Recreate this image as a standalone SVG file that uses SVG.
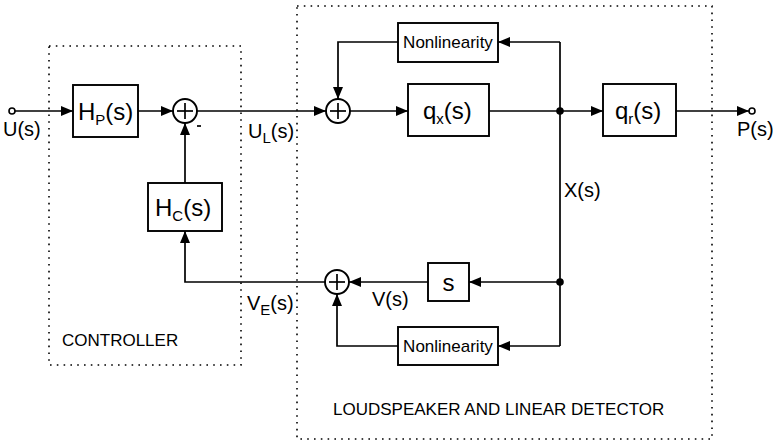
<svg xmlns="http://www.w3.org/2000/svg" width="773" height="442" viewBox="0 0 773 442">
<style>
  .box { fill: #fff; stroke: #000; stroke-width: 1.9; }
  .sum { fill: #fff; stroke: #000; stroke-width: 1.9; }
  .ln { fill: none; stroke: #000; stroke-width: 1.7; }
  .dot { fill: none; stroke: #000; stroke-width: 1.6; stroke-dasharray: 1.6 5.2; }
  text { font-family: "Liberation Sans", Arial, sans-serif; fill: #000; }
  .big { font-size: 24px; }
  .lab { font-size: 20px; }
  .nl { font-size: 17px; }
  .cap { font-size: 17px; }
  .sub { font-size: 15px; }
</style>
<defs>
  <marker id="arr" viewBox="0 0 12 10" refX="12" refY="5" markerWidth="12" markerHeight="10" markerUnits="userSpaceOnUse" orient="auto">
    <path d="M0,0 L12,5 L0,10 Z" fill="#000"/>
  </marker>
</defs>

<g id="frames">
  <rect class="dot" x="49" y="46" width="192" height="319"/>
  <rect class="dot" x="297" y="6" width="415" height="433"/>
</g>

<g id="connectors">
  <line class="ln" x1="15" y1="111" x2="73" y2="111" marker-end="url(#arr)"/>
  <line class="ln" x1="138" y1="111" x2="173" y2="111" marker-end="url(#arr)"/>
  <line class="ln" x1="197" y1="111" x2="326" y2="111" marker-end="url(#arr)"/>
  <line class="ln" x1="350" y1="111" x2="408" y2="111" marker-end="url(#arr)"/>
  <line class="ln" x1="489" y1="111" x2="603" y2="111" marker-end="url(#arr)"/>
  <line class="ln" x1="676" y1="111" x2="749" y2="111" marker-end="url(#arr)"/>
  <line class="ln" x1="560" y1="42" x2="560" y2="346"/>
  <line class="ln" x1="560" y1="42" x2="498" y2="42" marker-end="url(#arr)"/>
  <polyline class="ln" points="398,42 338,42 338,99" marker-end="url(#arr)"/>
  <line class="ln" x1="560" y1="282" x2="469" y2="282" marker-end="url(#arr)"/>
  <line class="ln" x1="428" y1="282" x2="349" y2="282" marker-end="url(#arr)"/>
  <polyline class="ln" points="325,282 185,282 185,231" marker-end="url(#arr)"/>
  <line class="ln" x1="560" y1="346" x2="498" y2="346" marker-end="url(#arr)"/>
  <polyline class="ln" points="398,346 337,346 337,294" marker-end="url(#arr)"/>
  <line class="ln" x1="185" y1="183" x2="185" y2="123" marker-end="url(#arr)"/>
  <circle cx="560" cy="111" r="3.8" fill="#000"/>
  <circle cx="560" cy="282" r="3.8" fill="#000"/>
</g>

<g id="input">
  <circle cx="12" cy="111" r="3" fill="#fff" stroke="#000" stroke-width="1.6"/>
  <text class="lab" x="3" y="136">U(s)</text>
</g>

<g id="output">
  <circle cx="752" cy="111" r="3" fill="#fff" stroke="#000" stroke-width="1.6"/>
  <text class="lab" x="737" y="136">P(s)</text>
</g>

<g id="Hp">
  <rect class="box" x="73" y="85" width="65" height="52"/>
  <text class="big" x="78" y="120">H<tspan class="sub" dy="5">P</tspan><tspan dy="-5">(s)</tspan></text>
</g>

<g id="sum1">
  <circle class="sum" cx="185" cy="111" r="12"/>
  <line class="ln" x1="177" y1="111" x2="193" y2="111"/>
  <line class="ln" x1="185" y1="103" x2="185" y2="119"/>
  <line class="ln" x1="197" y1="126" x2="201" y2="126"/>
</g>

<g id="Hc">
  <rect class="box" x="148" y="183" width="74" height="48"/>
  <text class="big" x="155" y="216">H<tspan class="sub" dy="5">C</tspan><tspan dy="-5">(s)</tspan></text>
</g>

<g id="sum2">
  <circle class="sum" cx="338" cy="111" r="12"/>
  <line class="ln" x1="330" y1="111" x2="346" y2="111"/>
  <line class="ln" x1="338" y1="103" x2="338" y2="119"/>
</g>

<g id="nonlin1">
  <rect class="box" x="398" y="23" width="100" height="39"/>
  <text class="nl" x="448" y="48" text-anchor="middle">Nonlinearity</text>
</g>

<g id="qx">
  <rect class="box" x="408" y="84" width="81" height="52"/>
  <text class="big" x="423" y="119">q<tspan class="sub" dy="5">x</tspan><tspan dy="-5">(s)</tspan></text>
</g>

<g id="qr">
  <rect class="box" x="603" y="84" width="73" height="52"/>
  <text class="big" x="615" y="119">q<tspan class="sub" dy="5">r</tspan><tspan dy="-5">(s)</tspan></text>
</g>

<g id="sbox">
  <rect class="box" x="428" y="263" width="41" height="38"/>
  <text class="big" x="448.5" y="291" text-anchor="middle">s</text>
</g>

<g id="sum3">
  <circle class="sum" cx="337" cy="282" r="12"/>
  <line class="ln" x1="329" y1="282" x2="345" y2="282"/>
  <line class="ln" x1="337" y1="274" x2="337" y2="290"/>
</g>

<g id="nonlin2">
  <rect class="box" x="398" y="327" width="100" height="38"/>
  <text class="nl" x="448" y="352" text-anchor="middle">Nonlinearity</text>
</g>

<g id="labels">
  <text class="lab" x="248" y="138">U<tspan class="sub" dy="5">L</tspan><tspan dy="-5">(s)</tspan></text>
  <text class="lab" x="564" y="197">X(s)</text>
  <text class="lab" x="372" y="306">V(s)</text>
  <text class="lab" x="247" y="310">V<tspan class="sub" dy="5">E</tspan><tspan dy="-5">(s)</tspan></text>
  <text class="cap" x="62" y="346">CONTROLLER</text>
  <text class="cap" x="333" y="415">LOUDSPEAKER AND LINEAR DETECTOR</text>
</g>
</svg>
